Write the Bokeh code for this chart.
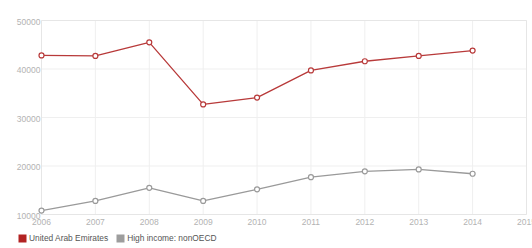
from bokeh.plotting import figure
from bokeh.models import Range1d, Legend, LegendItem
from bokeh.core.properties import value
from bokeh.embed import file_html
from bokeh.resources import INLINE

years = [2006, 2007, 2008, 2009, 2010, 2011, 2012, 2013, 2014]
uae = [42800, 42700, 45500, 32700, 34100, 39700, 41600, 42700, 43800]
hinc = [10800, 12800, 15500, 12800, 15200, 17700, 18900, 19300, 18400]
x_ticks = [2006, 2007, 2008, 2009, 2010, 2011, 2012, 2013, 2014, 2015]
y_ticks = [10000, 20000, 30000, 40000, 50000]
series_names = ["United Arab Emirates", "High income: nonOECD"]

RED = "#b83a3a"
GRAY = "#9a9a9a"
FONT = value("Liberation Sans")
LABEL_COLOR = "#b3b3b3"

x0, x1 = x_ticks[0], x_ticks[-1]
y0, y1 = y_ticks[0], y_ticks[-1]

# frame covers the whole figure; ranges padded so data area sits where the reference has it
W, H = 532, 248
left_px, right_px, top_px, bottom_px = 41, 6, 20, 34
xs = (x1 - x0) / (W - left_px - right_px)
ys = (y1 - y0) / (H - top_px - bottom_px)

p = figure(width=W, height=H, output_backend="svg", toolbar_location=None,
           x_range=Range1d(x0 - left_px * xs, x1 + right_px * xs),
           y_range=Range1d(y0 - bottom_px * ys, y1 + top_px * ys),
           min_border=0, x_axis_type=None, y_axis_type=None)
p.outline_line_color = None
p.xgrid.visible = False
p.ygrid.visible = False

# grid lines
p.segment(x0=x_ticks, x1=x_ticks, y0=[y0] * len(x_ticks), y1=[y1] * len(x_ticks),
          line_color="#efefef", line_width=1)
p.segment(x0=[x0] * len(y_ticks), x1=[x1] * len(y_ticks), y0=y_ticks, y1=y_ticks,
          line_color="#efefef", line_width=1)
# frame border
p.quad(left=[x0], right=[x1], bottom=[y0], top=[y1], fill_color=None,
       line_color="#e6e6e6", line_width=1)

# tick labels
p.text(x=x_ticks, y=[y0] * len(x_ticks), text=[str(t) for t in x_ticks],
       text_align="center", text_baseline="top", y_offset=4,
       text_font=FONT, text_font_size="8.5px", text_color=LABEL_COLOR)
p.text(x=[x0] * len(y_ticks), y=y_ticks, text=[str(t) for t in y_ticks],
       text_align="right", text_baseline="middle", x_offset=-1, y_offset=1,
       text_font=FONT, text_font_size="8.5px", text_color=LABEL_COLOR)

# series
p.line(years, uae, line_color=RED, line_width=1.3)
p.scatter(years, uae, size=5, line_color=RED, fill_color="white", line_width=1.2)
p.line(years, hinc, line_color=GRAY, line_width=1.3)
p.scatter(years, hinc, size=5, line_color=GRAY, fill_color="white", line_width=1.2)

# legend swatches (hidden renderers, only used by the legend)
q1 = p.quad(left=years, right=years, bottom=uae, top=uae, fill_color="#b22222",
            line_color=None, visible=False)
q2 = p.quad(left=years, right=years, bottom=hinc, top=hinc, fill_color="#9d9d9d",
            line_color=None, visible=False)
legend = Legend(items=[LegendItem(label=series_names[0], renderers=[q1]),
                       LegendItem(label=series_names[1], renderers=[q2])],
                orientation="horizontal", location=(17, 5),
                label_text_font="Liberation Sans", label_text_font_size="8.4px",
                label_text_color="#555555",
                glyph_width=10, glyph_height=10, label_standoff=2, spacing=7,
                padding=0, margin=0, border_line_color=None, background_fill_alpha=0,
                label_height=10, label_width=10)
p.add_layout(legend, "center")

open("out.html", "w").write(file_html(p, INLINE))
